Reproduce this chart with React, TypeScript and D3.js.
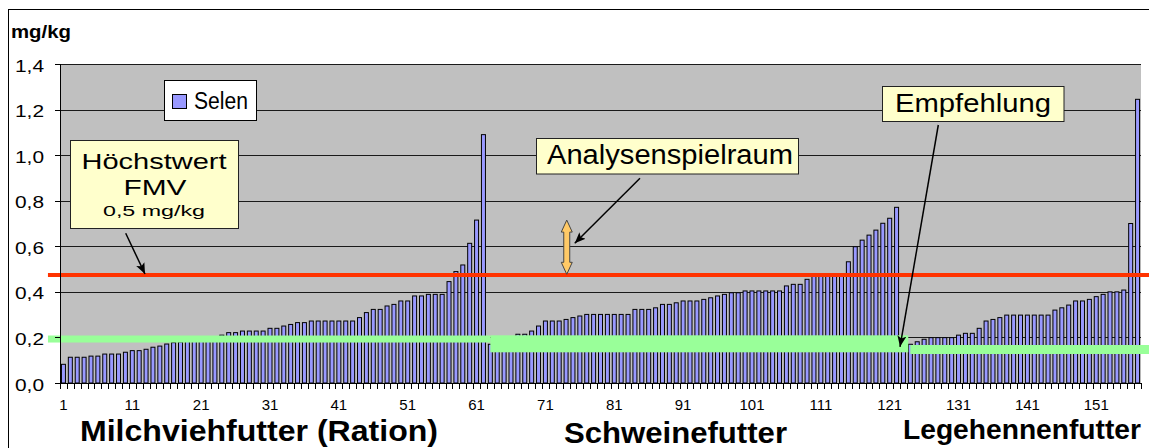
import React from 'react';
import * as d3 from 'd3';

// ---- data ----
const milchvieh = [
  0.082, 0.113, 0.113, 0.113, 0.118, 0.118, 0.127, 0.127, 0.127, 0.135,
  0.142, 0.142, 0.148, 0.157, 0.162, 0.171, 0.177, 0.18, 0.185, 0.19,
  0.19, 0.195, 0.2, 0.21, 0.221, 0.221, 0.228, 0.228, 0.228, 0.228,
  0.24, 0.24, 0.25, 0.257, 0.265, 0.265, 0.272, 0.272, 0.272, 0.272,
  0.272, 0.272, 0.272, 0.287, 0.309, 0.323, 0.323, 0.338, 0.345, 0.36,
  0.36, 0.382, 0.382, 0.389, 0.389, 0.389, 0.445, 0.489, 0.518, 0.613,
  0.715, 1.09,
];
const schwein = [
  0.17, 0.18, 0.19, 0.2, 0.214, 0.214, 0.228, 0.25, 0.272, 0.272,
  0.272, 0.279, 0.287, 0.294, 0.301, 0.301, 0.301, 0.301, 0.301, 0.301,
  0.301, 0.323, 0.323, 0.323, 0.33, 0.345, 0.345, 0.352, 0.36, 0.36,
  0.36, 0.367, 0.374, 0.382, 0.389, 0.396, 0.396, 0.404, 0.404, 0.404,
  0.404, 0.404, 0.404, 0.426, 0.433, 0.433, 0.455, 0.47, 0.475, 0.478,
  0.48, 0.48, 0.532, 0.598, 0.627, 0.649, 0.671, 0.701, 0.723, 0.771,
];
const legehennen = [
  0.165, 0.17, 0.181, 0.192, 0.199, 0.199, 0.199, 0.199, 0.21, 0.218,
  0.218, 0.24, 0.272, 0.279, 0.287, 0.298, 0.298, 0.298, 0.298, 0.298,
  0.298, 0.298, 0.32, 0.33, 0.342, 0.36, 0.36, 0.367, 0.379, 0.389,
  0.4, 0.4, 0.408, 0.7, 1.245,
];
const selen = [...milchvieh, ...schwein, ...legehennen];
const categories = selen.map((_, i) => i + 1);
const xTickLabels = [1, 11, 21, 31, 41, 51, 61, 71, 81, 91, 101, 111, 121, 131, 141, 151];
const yTicks = [0, 0.2, 0.4, 0.6, 0.8, 1.0, 1.2, 1.4];
const groupNames = ['Milchviehfutter (Ration)', 'Schweinefutter', 'Legehennenfutter'];

// reference lines (value levels, category-boundary ranges)
const limitLevel = 0.474; // Höchstwert FMV
const recommendation = [
  { from: -1.75, to: 62.5, value: 0.193 },
  { from: 62.5, to: 123.2, value: 0.172 },
  { from: 123.5, to: 158.2, value: 0.147 },
];
const recThickness = [7, 17, 9];
const rangeArrow = { at: 73.6, low: 0.477, high: 0.715 };

const FONT = '"Liberation Sans", Arial, Helvetica, sans-serif';

export default function App() {
  const W = 1149, H = 448;
  const left = 60, right = 1141, top = 64, bottom = 383;

  const x = d3.scaleBand<number>().domain(categories).range([left, right]).paddingInner(0.42).paddingOuter(0.21);
  const xi = d3.scaleLinear().domain([0, categories.length]).range([left, right]);
  const y = d3.scaleLinear().domain([0, 1.4]).range([bottom, top]);
  const fmt = (v: number) => d3.format('.1f')(v).replace('.', ',');

  const cx = (c: number) => (x(c) as number) + x.bandwidth() / 2;

  // double arrow
  const ax = xi(rangeArrow.at);
  const yT = y(rangeArrow.high), yB = y(rangeArrow.low);
  const hl = 12, hw = 5.5, sw = 3;
  const dbl = [
    [ax, yT], [ax + hw, yT + hl], [ax + sw, yT + hl], [ax + sw, yB - hl], [ax + hw, yB - hl],
    [ax, yB], [ax - hw, yB - hl], [ax - sw, yB - hl], [ax - sw, yT + hl], [ax - hw, yT + hl],
  ].map((p) => p.join(',')).join(' ');

  const boxStyle = { fill: '#ffffcc', stroke: '#222', strokeWidth: 1 };

  return (
    <svg width={W} height={H} style={{ position: 'absolute', left: 0, top: 0 }} fontFamily={FONT}>
      <defs>
        <marker id="ah" markerUnits="userSpaceOnUse" markerWidth="12" markerHeight="10" refX="11" refY="4.5" orient="auto">
          <path d="M0,0 L11,4.5 L0,9 L2.5,4.5 Z" fill="#000" />
        </marker>
      </defs>
      <rect x={8.5} y={9.5} width={1150} height={450} fill="#fff" stroke="#000" strokeWidth={1} />

      {/* plot background */}
      <rect x={left} y={top} width={right - left} height={bottom - top} fill="#c0c0c0" />
      {yTicks.map((t) => (
        <line key={'g' + t} x1={left} x2={right} y1={Math.round(y(t)) + 0.5} y2={Math.round(y(t)) + 0.5} stroke="#1a1a1a" strokeWidth={1} />
      ))}

      {/* bars */}
      {selen.map((v, i) => (
        <rect key={i} x={x(categories[i])} y={y(v)} width={x.bandwidth()} height={bottom - y(v)}
          fill="#9999ff" stroke="#000" strokeWidth={1} />
      ))}

      {/* recommendation (green) */}
      {recommendation.map((s, i) => (
        <rect key={'r' + i} x={xi(s.from)} width={xi(s.to) - xi(s.from)} y={y(s.value) - recThickness[i] / 2}
          height={recThickness[i]} fill="#99ff99" />
      ))}
      {/* limit (red) */}
      <rect x={xi(-1.75)} width={xi(158.2) - xi(-1.75)} y={y(limitLevel) - 2} height={4} fill="#ff3300" />

      {/* axes */}
      <line x1={left + 0.5} x2={left + 0.5} y1={top} y2={bottom} stroke="#000" />
      <line x1={left} x2={right} y1={bottom + 0.5} y2={bottom + 0.5} stroke="#000" />
      {yTicks.map((t) => (
        <g key={'yt' + t}>
          <line x1={left - 5} x2={left} y1={Math.round(y(t)) + 0.5} y2={Math.round(y(t)) + 0.5} stroke="#000" />
          <text x={44} y={y(t) + 7.5} textAnchor="end" fontSize={16} textLength={29} lengthAdjust="spacingAndGlyphs">{fmt(t)}</text>
        </g>
      ))}
      {d3.range(categories.length + 1).map((k) => (
        <line key={'xt' + k} x1={Math.round(xi(k)) + 0.5} x2={Math.round(xi(k)) + 0.5} y1={bottom} y2={bottom + 6} stroke="#000" />
      ))}
      {xTickLabels.map((c) => (
        <text key={'xl' + c} x={cx(c)} y={410} textAnchor="middle" fontSize={15}>{c}</text>
      ))}

      {/* unit */}
      <text x={11} y={38} fontSize={18} fontWeight="bold" textLength={60} lengthAdjust="spacingAndGlyphs">mg/kg</text>

      {/* group labels */}
      <text x={80} y={441} fontSize={29} fontWeight="bold" textLength={358} lengthAdjust="spacingAndGlyphs">{groupNames[0]}</text>
      <text x={564} y={443} fontSize={29} fontWeight="bold" textLength={223} lengthAdjust="spacingAndGlyphs">{groupNames[1]}</text>
      <text x={903} y={439} fontSize={28} fontWeight="bold" textLength={238} lengthAdjust="spacingAndGlyphs">{groupNames[2]}</text>

      {/* legend */}
      <rect x={164.5} y={80.5} width={92} height={40} fill="#fff" stroke="#000" />
      <rect x={172.5} y={94.5} width={14} height={14} fill="#9999ff" stroke="#000" />
      <text x={194} y={109} fontSize={23} textLength={54} lengthAdjust="spacingAndGlyphs">Selen</text>

      {/* Höchstwert annotation */}
      <rect x={70.5} y={140.5} width={168} height={88} style={boxStyle} />
      <text x={154} y={169} textAnchor="middle" fontSize={22} textLength={145} lengthAdjust="spacingAndGlyphs">Höchstwert</text>
      <text x={155} y={195} textAnchor="middle" fontSize={22} textLength={63} lengthAdjust="spacingAndGlyphs">FMV</text>
      <text x={154} y={216} textAnchor="middle" fontSize={15} textLength={102} lengthAdjust="spacingAndGlyphs">0,5 mg/kg</text>
      <line x1={125.7} y1={233.3} x2={145} y2={y(limitLevel) - 1} stroke="#000" strokeWidth={1.5} markerEnd="url(#ah)" />

      {/* Analysenspielraum annotation */}
      <rect x={536.5} y={138.5} width={262} height={35.5} style={boxStyle} />
      <text x={547} y={164.3} fontSize={27} textLength={246} lengthAdjust="spacingAndGlyphs">Analysenspielraum</text>
      <line x1={640} y1={178.3} x2={ax + 8} y2={243.3} stroke="#000" strokeWidth={1.5} markerEnd="url(#ah)" />
      <polygon points={dbl} fill="#ffc966" stroke="#444" strokeWidth={1} />

      {/* Empfehlung annotation */}
      <rect x={882.5} y={86.5} width={181.5} height={35} style={boxStyle} />
      <text x={895} y={112.3} fontSize={26.5} textLength={156} lengthAdjust="spacingAndGlyphs">Empfehlung</text>
      <line x1={938.3} y1={125} x2={900} y2={y(recommendation[1].value) + 3} stroke="#000" strokeWidth={1.5} markerEnd="url(#ah)" />
    </svg>
  );
}
